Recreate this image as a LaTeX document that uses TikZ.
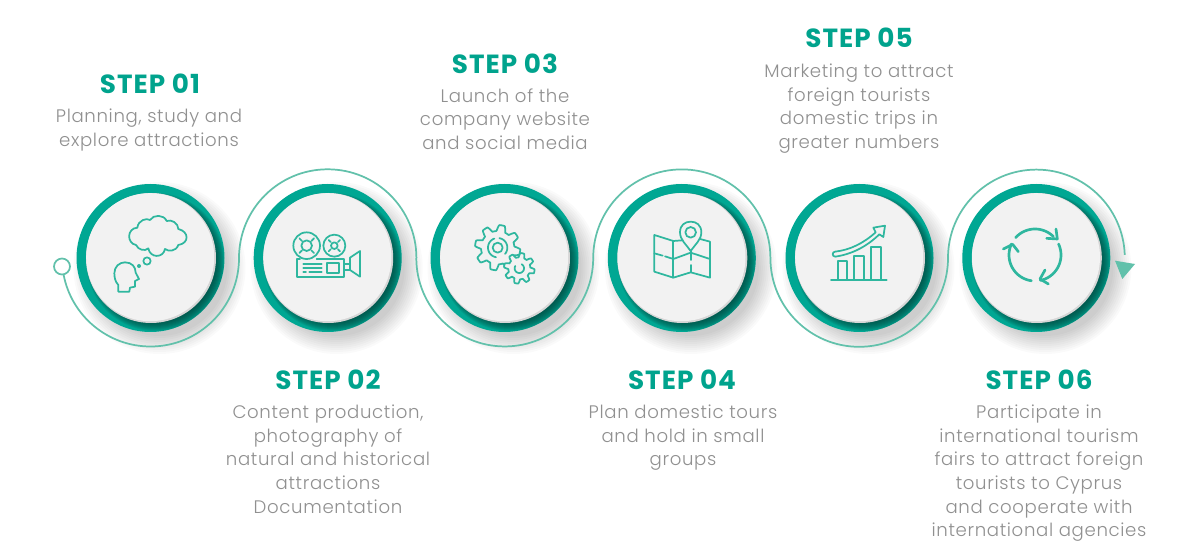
\documentclass[tikz,border=0pt]{standalone}
\usepackage{fontspec}
\setmainfont{Poppins}
\newfontfamily\bodyf[LetterSpace=3.6]{Poppins Light}
\newfontfamily\headf[LetterSpace=4]{Poppins Bold}
\definecolor{teal1}{HTML}{00A793}
\definecolor{tealdark}{HTML}{00453D}
\definecolor{linec}{HTML}{62C1AB}
\definecolor{iconc}{HTML}{2FB79F}
\definecolor{headc}{HTML}{00A38D}
\definecolor{bodyc}{HTML}{909090}
\definecolor{discc}{HTML}{F2F2F2}
\definecolor{discedge}{HTML}{D6D6D6}
\def\u{0.75pt}
\tikzset{
  disc/.style={circle,fill=discc,minimum size=128*\u,inner sep=0pt,outer sep=0pt},
  connector/.style={draw=linec,line width=1.3pt},
  iconline/.style={draw=iconc,line width=1.3pt,line join=round,line cap=round},
  iconthick/.style={draw=iconc,line width=2pt,line join=round,line cap=round},
  zoomed/.style 2 args={shift={(#1,#2)},x=0.25pt,y=-0.25pt},
  head/.style={font=\headf\fontsize{19.7pt}{20pt}\selectfont,text=headc,inner sep=0pt,anchor=center},
  body/.style={font=\bodyf\fontsize{13.6pt}{17.65pt}\selectfont,text=bodyc,inner sep=0pt,align=center,anchor=north},
}
\newcommand{\badge}[2]{%
  \foreach \r in {68,70,...,86}{\fill[black,fill opacity=.02] (#1+9,258+10) circle[radius=\r*\u];}
  \fill[teal1] (#1,258) circle[radius=74*\u];
  \begin{scope}
    \clip (#1,258) circle[radius=74*\u];
    \foreach \r in {60,61,...,69}{\fill[tealdark,fill opacity=.13] (#1+5,258+4) circle[radius=\r*\u];}
  \end{scope}
  \fill[discedge] (#1+.5,258) circle[radius=65*\u];
  \node[disc] (#2) at (#1-.3,257.2) {};
}
% cx cy r a b : arc as a plot in the picture's downward coordinates
\newcommand{\parc}[5]{plot[domain=#4:#5,samples=40,smooth] ({#1+#3*cos(\x)},{#2+#3*sin(\x)})}
\newcommand{\gearpath}[5]{plot[domain=0:360,samples=217,smooth] ({#1+(#4+(#3-#4)*(0.5+0.5*max(-1,min(1,1.9*sin(#5*\x)))))*cos(\x)},{#2+(#4+(#3-#4)*(0.5+0.5*max(-1,min(1,1.9*sin(#5*\x)))))*sin(\x)}) -- cycle}
\begin{document}
\begin{tikzpicture}[x=0.75pt,y=-0.75pt]
\useasboundingbox (0,0) rectangle (1200,559);
\fill[white] (0,0) rectangle (1200,559);

\badge{150.5}{d1}
\badge{327.7}{d2}
\badge{504.5}{d3}
\badge{681.8}{d4}
\badge{859.5}{d5}
\badge{1036.3}{d6}

% connector
\coordinate (k1) at (239,258);
\coordinate (k2) at (416.3,258);
\coordinate (k3) at (593.2,258);
\coordinate (k4) at (770.4,258);
\coordinate (k5) at (948,258);
\draw[connector] (k1) arc[start angle=0,end angle=-169.3,radius=88.5*\u];
\node[circle,draw=linec,line width=1.3pt,fill=white,minimum size=16*\u,inner sep=0pt] (start) at (62,266.5) {};
\draw[connector] (k1) arc[start angle=180,end angle=0,radius=88.7*\u];
\draw[connector] (k2) arc[start angle=180,end angle=360,radius=88.45*\u];
\draw[connector] (k3) arc[start angle=180,end angle=0,radius=88.6*\u];
\draw[connector] (k4) arc[start angle=180,end angle=360,radius=88.8*\u];
\draw[connector] (k5) arc[start angle=180,end angle=2,radius=88.4*\u];
\fill[linec] (1115,260.7) -- (1135,264) -- (1122.3,279) -- cycle;

% icon 1
\begin{scope}[zoomed={100}{205}]
\draw[iconline] (108,120) .. controls (80,115) and (80,70) .. (112,68)
  .. controls (115,45) and (140,38) .. (150,45)
  .. controls (160,28) and (192,28) .. (200,48)
  .. controls (215,42) and (235,55) .. (235,72)
  .. controls (268,80) and (268,115) .. (235,120)
  .. controls (228,140) and (205,140) .. (195,132)
  .. controls (190,160) and (150,160) .. (145,130)
  .. controls (135,140) and (115,135) .. (108,120) -- cycle;
\draw[iconline] (55,260) -- (55,240) .. controls (45,230) and (43,215) .. (43,205)
  .. controls (43,185) and (58,172) .. (75,172)
  .. controls (95,172) and (107,185) .. (107,203) -- (117,222) -- (105,228) -- (105,245) -- (90,248) -- (88,260) -- cycle;
\draw[iconline] (141,168) circle[radius=11];
\fill[iconc] (117,183) circle[radius=6];
\end{scope}

% icon 2
\begin{scope}[zoomed={280}{215}]
\draw[iconline] (80,92) circle[radius=40];
\draw[iconline] (80,92) circle[radius=16];
\foreach \a in {45,135,225,315}{\draw[iconline] ({80+20*cos(\a)},{92+20*sin(\a)}) -- ({80+31*cos(\a)},{92+31*sin(\a)});}
\draw[iconline] (163,92) circle[radius=33];
\draw[iconline] (163,92) circle[radius=10];
\foreach \a in {45,135,225,315}{\draw[iconline] ({163+15*cos(\a)},{92+15*sin(\a)}) -- ({163+24*cos(\a)},{92+24*sin(\a)});}
\draw[iconline] (60,133) -- (52,133) -- (52,185) -- (192,185) -- (192,133) -- (110,133);
\draw[iconline] (70,147) -- (125,147) (70,160) -- (125,160) (70,172) -- (78,172) (88,172) -- (125,172);
\draw[iconline] (142,143) rectangle (178,175);
\draw[iconline] (192,148) -- (210,148) (192,165) -- (210,165);
\draw[iconline] (210,128) -- (240,108) -- (240,185) -- (210,165) -- cycle;
\end{scope}

% icon 3
\begin{scope}[zoomed={460}{215}]
\draw[iconline] \gearpath{113}{98}{68}{50}{8};
\draw[iconline] (113,98) circle[radius=15];
\draw[iconline] \parc{113}{98}{29}{100}{250};
\draw[iconline] \parc{113}{98}{29}{280}{400};
\draw[iconline,fill=discc] \gearpath{178}{160}{46}{33}{8};
\draw[iconline] \parc{178}{160}{14}{-60}{210};
\end{scope}

% icon 4
\begin{scope}[zoomed={640}{215}]
\draw[iconline] (43,60) -- (100,78) -- (180,72) -- (210,80) -- (210,188) -- (152,172) -- (100,188) -- (43,170) -- cycle;
\draw[iconline] (100,78) -- (100,188);
\draw[iconline] (152,105) -- (152,135) (152,150) -- (152,172);
\draw[iconline] (43,115) -- (68,122) (75,124) -- (100,132) -- (152,113) -- (210,132);
\draw[iconline,fill=discc] (152,108) .. controls (140,90) and (120,75) .. (120,52) .. controls (120,30) and (135,20) .. (152,20) .. controls (169,20) and (184,30) .. (184,52) .. controls (184,75) and (164,90) .. (152,108) -- cycle;
\draw[iconline] (152,52) circle[radius=16];
\end{scope}

% icon 5
\begin{scope}[zoomed={820}{215}]
\draw[iconline] (33,194) -- (200,194);
\draw[iconline] (53,194) -- (53,137) -- (82,137) -- (82,194);
\draw[iconline] (103,194) -- (103,122) -- (131,122) -- (131,194);
\draw[iconline] (153,194) -- (153,95) -- (182,95) -- (182,194);
\draw[iconline] (45,125) .. controls (36,124) and (36,111) .. (45,110) .. controls (90,105) and (130,85) .. (167,52) -- (160,38) -- (195,32) -- (190,66) -- (178,58) .. controls (140,95) and (95,118) .. (45,125) -- cycle;
\end{scope}

% icon 6
\begin{scope}[zoomed={995}{215}]
\draw[iconthick] \parc{120}{120}{78}{222}{315};
\draw[iconthick] (155,70) -- (187,72) -- (183,42);
\draw[iconthick] \parc{120}{120}{78}{335}{438};
\draw[iconthick] (150,165) -- (135,192) -- (160,207);
\draw[iconthick] \parc{120}{120}{78}{98}{205};
\draw[iconthick] (25,102) -- (53,88) -- (70,110);
\end{scope}

% texts
\newcommand{\fl}{\rule{0pt}{1em}}
\node[head] (h1) at (150,84) {STEP 01};
\node[body] (b1) at (149,104.5) {\fl Planning, study and\\explore attractions};
\node[head] (h2) at (328,380) {STEP 02};
\node[body] (b2) at (328,400.5) {\fl Content production,\\photography of\\natural and historical\\attractions\\Documentation};
\node[head] (h3) at (505,64) {STEP 03};
\node[body] (b3) at (505,84) {\fl Launch of the\\company website\\and social media};
\node[head] (h4) at (682,380) {STEP 04};
\node[body] (b4) at (683,400.5) {\fl Plan domestic tours\\and hold in small\\groups};
\node[head] (h5) at (859,38) {STEP 05};
\node[body] (b5) at (859,59.5) {\fl Marketing to attract\\foreign tourists\\domestic trips in\\greater numbers};
\node[head] (h6) at (1039,380) {STEP 06};
\node[body] (b6) at (1039,400.5) {\fl Participate in\\international tourism\\fairs to attract foreign\\tourists to Cyprus\\and cooperate with\\international agencies};
\end{tikzpicture}
\end{document}
